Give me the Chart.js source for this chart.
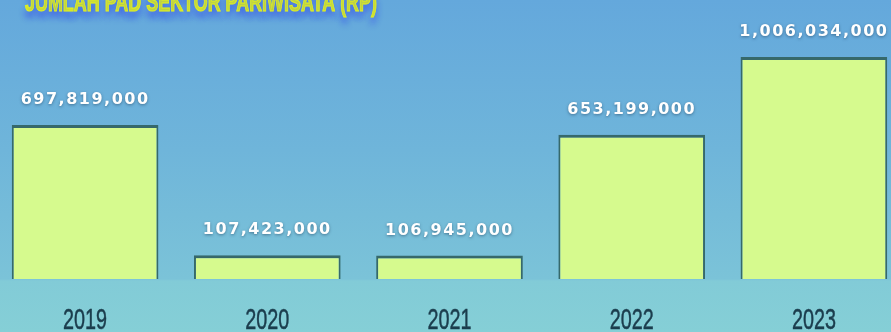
<!DOCTYPE html>
<html>
<head>
<meta charset="utf-8">
<script src="https://cdn.jsdelivr.net/npm/chart.js@4/dist/chart.umd.min.js"></script>
<style>
  html, body { margin: 0; padding: 0; }
  body {
    width: 891px; height: 332px; overflow: hidden; position: relative;
    background: linear-gradient(to bottom, #64a8dc 0px, #6fb5da 150px, #7bc3d8 279px, #82cbd7 281px, #85cfd6 332px);
  }
  #wrap { position: absolute; left: -6px; top: 0; width: 911px; height: 332px; }
</style>
</head>
<body>
<div id="wrap"><canvas id="c"></canvas></div>
<script>
// Tourism sector regional revenue (PAD), in rupiah
const years = ['2019', '2020', '2021', '2022', '2023'];
const revenue = [697819000, 107423000, 106945000, 653199000, 1006034000];
const valueLabels = ['697,819,000', '107,423,000', '106,945,000', '653,199,000', '1,006,034,000'];
const titleText = 'JUMLAH PAD SEKTOR PARIWISATA (RP)';

// Draws text squeezed horizontally to a condensed look
function condensedText(ctx, text, x, y, squeeze, strokeW) {
  ctx.save();
  ctx.translate(x, y);
  ctx.scale(squeeze, 1);
  ctx.fillText(text, 0, 0);
  if (strokeW) {
    ctx.lineWidth = strokeW;
    ctx.strokeStyle = ctx.fillStyle;
    ctx.strokeText(text, 0, 0);
  }
  ctx.restore();
}

// Title (clipped by the top edge), value labels above each bar, and year labels
const decorations = {
  id: 'decorations',
  afterDatasetsDraw(chart) {
    const ctx = chart.ctx;
    ctx.save();
    // title
    ctx.font = 'bold 28px "Liberation Sans", Arial, sans-serif';
    ctx.textAlign = 'left';
    ctx.textBaseline = 'alphabetic';
    ctx.shadowColor = 'rgba(60,90,230,0.8)';
    ctx.shadowOffsetY = 6;
    ctx.shadowBlur = 6;
    ctx.fillStyle = '#e2f21c';
    const tw = ctx.measureText(titleText).width;
    condensedText(ctx, titleText, 31, 11, 352 / tw, 1);
    // value labels
    const meta = chart.getDatasetMeta(0);
    ctx.font = 'bold 16px "DejaVu Sans", sans-serif';
    ctx.letterSpacing = '1.5px';
    ctx.textAlign = 'center';
    ctx.textBaseline = 'middle';
    ctx.shadowColor = 'rgba(30,60,90,0.55)';
    ctx.shadowOffsetY = 1;
    ctx.shadowBlur = 3;
    ctx.fillStyle = '#ffffff';
    meta.data.forEach((bar, i) => {
      ctx.fillText(valueLabels[i], bar.x, bar.y - 25);
    });
    // year labels under the x axis
    const xScale = chart.scales.x;
    ctx.letterSpacing = '0px';
    ctx.shadowColor = 'transparent';
    ctx.font = '30px "Liberation Sans", Arial, sans-serif';
    ctx.fillStyle = '#1b3d4d';
    ctx.textBaseline = 'alphabetic';
    years.forEach((y, i) => {
      condensedText(ctx, y, xScale.getPixelForTick(i), 329, 0.66, 0.5);
    });
    ctx.restore();
  }
};

new Chart(document.getElementById('c'), {
  type: 'bar',
  data: {
    labels: years,
    datasets: [{
      data: revenue,
      backgroundColor: '#d6fa8e',
      borderColor: '#36696b',
      borderWidth: { top: 3, left: 2, right: 2, bottom: 0 },
      borderSkipped: 'bottom',
      barPercentage: 0.805,
      categoryPercentage: 1.0
    }]
  },
  options: {
    responsive: true,
    maintainAspectRatio: false,
    animation: false,
    layout: { padding: 0 },
    plugins: { legend: { display: false }, tooltip: { enabled: false }, title: { display: false } },
    scales: {
      x: {
        grid: { display: false },
        border: { display: false },
        ticks: { display: false },
        afterFit(scale) { scale.height = 53; }
      },
      y: {
        display: false,
        min: 0,
        max: 1264000000
      }
    }
  },
  plugins: [decorations]
});
</script>
</body>
</html>
